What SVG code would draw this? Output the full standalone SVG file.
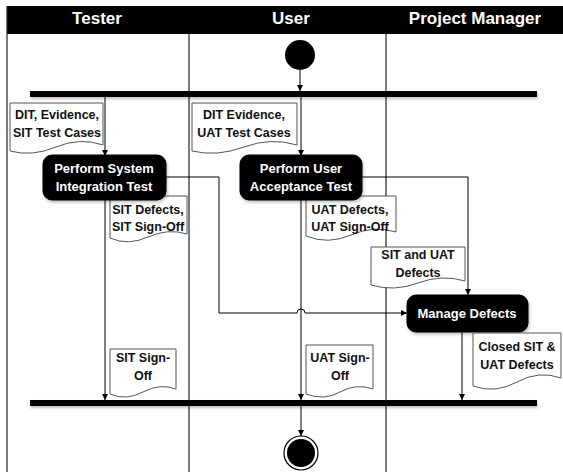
<svg xmlns="http://www.w3.org/2000/svg" width="563" height="472" viewBox="0 0 563 472">
<defs>
<style>
.lane{stroke:#222;stroke-width:1.2;fill:none}
.hdr{font-family:"Liberation Sans",Arial,sans-serif;font-weight:bold;font-size:17px;fill:#fff;text-anchor:middle}
.doc{fill:#fff;stroke:#555;stroke-width:1}
.dt{font-family:"Liberation Sans",Arial,sans-serif;font-weight:bold;font-size:12.5px;fill:#111;text-anchor:middle}
.act{fill:#000;stroke:#000}
.at{font-family:"Liberation Sans",Arial,sans-serif;font-weight:bold;font-size:13px;fill:#fff;text-anchor:middle}
.bar{fill:#000}
.con{stroke:#000;stroke-width:1;fill:none;marker-end:url(#arr)}
</style>
<marker id="arr" viewBox="0 0 10 10" refX="10" refY="5" markerWidth="6" markerHeight="6" orient="auto" markerUnits="userSpaceOnUse">
<path d="M0,0 L10,5 L0,10 Z" fill="#000"/>
</marker>
<filter id="sh" x="-5%" y="-50%" width="110%" height="250%">
<feGaussianBlur in="SourceAlpha" stdDeviation="1.5"/>
<feOffset dx="1" dy="2"/>
<feComponentTransfer><feFuncA type="linear" slope="0.25"/></feComponentTransfer>
<feMerge><feMergeNode/><feMergeNode in="SourceGraphic"/></feMerge>
</filter>
</defs>
<rect x="0" y="0" width="563" height="472" fill="#fff"/>
<g id="lanes">
<rect x="7" y="6" width="556" height="28" fill="#000"/>
<text class="hdr" x="97" y="24">Tester</text>
<text class="hdr" x="291" y="24">User</text>
<text class="hdr" x="475" y="24">Project Manager</text>
<line class="lane" x1="7" y1="6" x2="7" y2="472" stroke-width="1.6"/>
<line class="lane" x1="189" y1="34" x2="189" y2="472"/>
<line class="lane" x1="386" y1="34" x2="386" y2="472"/>
</g>
<g id="connectors">
<line class="con" x1="300" y1="70" x2="300" y2="91"/>
<line class="con" x1="105" y1="97" x2="105" y2="156"/>
<line class="con" x1="301" y1="97" x2="301" y2="156"/>
<path class="con" d="M166,177 H219 V313 H297 A4,4 0 0 1 305,313 H407"/>
<path class="con" d="M362,177 H468 V295"/>
<line class="con" x1="105" y1="200" x2="105" y2="400"/>
<line class="con" x1="301" y1="200" x2="301" y2="400"/>
<line class="con" x1="462" y1="332" x2="462" y2="400"/>
<line class="con" x1="301" y1="406" x2="301" y2="436"/>
</g>
<g id="start"><circle cx="300" cy="55" r="15" fill="#000"/></g>
<g id="fork"><rect class="bar" x="30" y="91" width="507" height="6" filter="url(#sh)"/></g>
<g id="join"><rect class="bar" x="30" y="400" width="507" height="6" filter="url(#sh)"/></g>
<g id="end">
<circle cx="301" cy="453" r="17" fill="#fff" stroke="#000" stroke-width="1.2"/>
<circle cx="301" cy="453" r="14" fill="#000"/>
</g>
<g id="doc-dit-sit">
<path class="doc" d="M10,103 H103 V145 Q80,137 56,147 T10,151 Z"/>
<text class="dt" x="57" y="119">DIT, Evidence,</text>
<text class="dt" x="57" y="137">SIT Test Cases</text>
</g>
<g id="doc-dit-uat">
<path class="doc" d="M192,103 H297 V145 Q271,137 244,147 T192,151 Z"/>
<text class="dt" x="244" y="119">DIT Evidence,</text>
<text class="dt" x="244" y="137">UAT Test Cases</text>
</g>
<g id="doc-sit-defects">
<path class="doc" d="M110,196 H187 V234 Q168,228 148,237 T110,238 Z"/>
<text class="dt" x="148" y="214">SIT Defects,</text>
<text class="dt" x="148" y="231">SIT Sign-Off</text>
</g>
<g id="doc-uat-defects">
<path class="doc" d="M306,196 H396 V232 Q374,225 351,235 T306,236 Z"/>
<text class="dt" x="350" y="214">UAT Defects,</text>
<text class="dt" x="350" y="231">UAT Sign-Off</text>
</g>
<g id="act-sit">
<rect class="act" x="43" y="155" width="123" height="45" rx="9" filter="url(#sh)"/>
<text class="at" x="104" y="173">Perform System</text>
<text class="at" x="104" y="191">Integration Test</text>
</g>
<g id="act-uat">
<rect class="act" x="240" y="155" width="122" height="45" rx="9" filter="url(#sh)"/>
<text class="at" x="301" y="173">Perform User</text>
<text class="at" x="301" y="191">Acceptance Test</text>
</g>
<g id="doc-sit-uat-defects">
<path class="doc" d="M371,247 H465 V281 Q442,274 418,283 T371,285 Z"/>
<text class="dt" x="418" y="259">SIT and UAT</text>
<text class="dt" x="418" y="277">Defects</text>
</g>
<g id="act-manage">
<rect class="act" x="407" y="295" width="121" height="37" rx="9" filter="url(#sh)"/>
<text class="at" x="467" y="318">Manage Defects</text>
</g>
<g id="doc-closed">
<path class="doc" d="M473,333 H561 V378 Q539,370 517,382 T473,386 Z"/>
<text class="dt" x="517" y="351">Closed SIT &amp;</text>
<text class="dt" x="517" y="369">UAT Defects</text>
</g>
<g id="doc-sit-signoff">
<path class="doc" d="M110,349 H176 V389 Q160,383 143,392 T110,394 Z"/>
<text class="dt" x="143" y="362">SIT Sign-</text>
<text class="dt" x="143" y="380">Off</text>
</g>
<g id="doc-uat-signoff">
<path class="doc" d="M306,345 H373 V389 Q356,383 340,392 T306,394 Z"/>
<text class="dt" x="340" y="362">UAT Sign-</text>
<text class="dt" x="340" y="380">Off</text>
</g>
</svg>
